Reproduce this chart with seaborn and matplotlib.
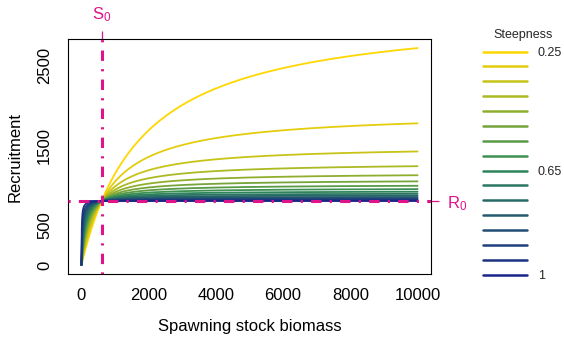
import numpy as np
import pandas as pd
import matplotlib
matplotlib.use("Agg")
import matplotlib.pyplot as plt
from matplotlib.colors import LinearSegmentedColormap, to_hex
from matplotlib.lines import Line2D
import seaborn as sns

# ---------------- data ----------------
steepness = [0.25, 0.30, 0.35, 0.40, 0.45, 0.50, 0.55, 0.60,
             0.65, 0.70, 0.75, 0.80, 0.85, 0.90, 0.95, 1.00]
S0 = 600          # unfished spawning biomass (vertical reference line)
R0 = 800          # unfished recruitment (horizontal reference line)
ssb_min = 0
ssb_max = 10000
x_ticks = [0, 2000, 4000, 6000, 8000, 10000]
x_tick_labels = ["0", "2000", "4000", "6000", "8000", "10000"]
y_ticks = [0, 500, 1000, 1500, 2000, 2500]
y_tick_labels = ["0", "500", "", "1500", "", "2500"]
legend_shown = {0.25: "0.25", 0.65: "0.65", 1.00: "1"}
x_label = "Spawning stock biomass"
y_label = "Recruitment"
legend_title = "Steepness"

# ---------------- Beverton-Holt curves (model of the chart) ----------------
ssb = np.linspace(ssb_min, ssb_max, 2001)
rows = []
for h in steepness:
    rec = 4 * h * R0 * ssb / (S0 * (1 - h) + ssb * (5 * h - 1))
    rows.append(pd.DataFrame({"ssb": ssb, "rec": rec, "h": h}))
df = pd.concat(rows, ignore_index=True)

# ---------------- style ----------------
sns.set_style("white")
plt.rcParams["font.family"] = ["Liberation Sans", "DejaVu Sans"]
plt.rcParams["mathtext.fontset"] = "custom"
plt.rcParams["mathtext.rm"] = "Liberation Sans"
plt.rcParams["mathtext.it"] = "Liberation Sans:italic"

magenta = "#E0138A"
cmap = LinearSegmentedColormap.from_list("steep", ["#FFD700", "#2E8B57", "#182488"])
colors = [to_hex(cmap(i / (len(steepness) - 1))) for i in range(len(steepness))]
palette = dict(zip(steepness, colors))

fig = plt.figure(figsize=(5.64, 3.37), dpi=100)
ax = fig.add_axes([68 / 564, 1 - 273.7 / 337, (431 - 68) / 564, (273.7 - 39.4) / 337])

sns.lineplot(data=df, x="ssb", y="rec", hue="h", hue_order=steepness,
             palette=palette, linewidth=1.3, estimator=None, errorbar=None,
             legend=False, ax=ax)

dotdash = (0, (0.7, 2.7, 3.4, 2.7))
ax.axhline(R0, color=magenta, lw=2.2, ls=dotdash, zorder=5)
ax.axvline(S0, color=magenta, lw=2.2, ls=dotdash, zorder=5)

# limits like R (4% extension)
xr = ssb_max - ssb_min
ax.set_xlim(ssb_min - 0.04 * xr, ssb_max + 0.04 * xr)
ymin, ymax = df["rec"].min(), df["rec"].max()
yr = ymax - ymin
ax.set_ylim(ymin - 0.04 * yr, ymax + 0.04 * yr)

ax.set_xticks(x_ticks, labels=x_tick_labels)
ax.set_yticks(y_ticks, labels=y_tick_labels)
ax.tick_params(axis="both", direction="out", length=6, width=0.75,
               colors="black", labelsize=12)
ax.tick_params(axis="x", pad=4)
ax.tick_params(axis="y", pad=5.5)
plt.setp(ax.get_yticklabels(), rotation=90, va="center")

for s in ax.spines.values():
    s.set_visible(True)
    s.set_color("black")
    s.set_linewidth(0.8)

ax.set_xlabel(x_label, fontsize=12, color="black")
ax.set_ylabel(y_label, fontsize=12, color="black")
ax.xaxis.set_label_coords(0.5, (273.7 - 327) / 234.3)
ax.xaxis.label.set_va("center")
ax.yaxis.set_label_coords((15.5 - 68) / 363, 0.5)
ax.yaxis.label.set_va("center")

# S0 tick on top, R0 tick on right
top = ax.secondary_xaxis("top")
top.set_xticks([S0], labels=[r"$\mathregular{S_0}$"])
top.tick_params(direction="out", length=6, width=0.9, colors=magenta,
                labelsize=12, pad=5)
top.spines["top"].set_visible(False)

right = ax.secondary_yaxis("right")
right.set_yticks([R0], labels=[r"$\mathregular{R_0}$"])
right.tick_params(direction="out", length=6, width=0.9, colors=magenta,
                  labelsize=12, pad=5.5)
right.spines["right"].set_visible(False)

# legend
handles = [Line2D([], [], color=palette[h], lw=1.8) for h in steepness]
labels = [legend_shown.get(h, "") for h in steepness]
leg = fig.legend(handles, labels, loc="upper left",
                 bbox_to_anchor=(483 / 564, 1 - 29 / 337),
                 frameon=False, fontsize=9, title=legend_title, title_fontsize=9,
                 handlelength=3.5, handletextpad=0.9, labelspacing=0.23,
                 borderpad=0, borderaxespad=0)
leg._legend_box.sep = 4.3

fig.savefig("out.png", dpi=100)
